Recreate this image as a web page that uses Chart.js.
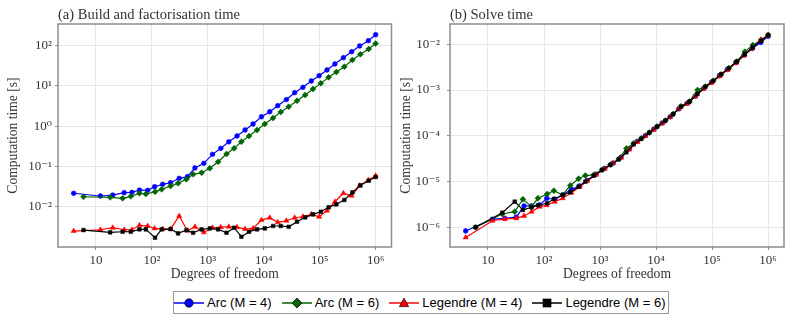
<!DOCTYPE html>
<html>
<head>
<meta charset="utf-8">
<script src="https://cdn.jsdelivr.net/npm/chart.js@4.4.1/dist/chart.umd.min.js"></script>
<style>
  body { margin: 0; background: #fff; }
  #wrap { position: relative; width: 793px; height: 323px; overflow: hidden; }
  #left { position: absolute; left: 0; top: 0; }
  #right { position: absolute; left: 396px; top: 0; }
  #legend {
    position: absolute; left: 173px; top: 291px; width: 496px; height: 23px;
    box-sizing: border-box; border: 1px solid #999; background: #fff;
    display: flex; align-items: center;
    font-family: 'Liberation Sans', Arial, sans-serif; font-size: 13px; color: #000;
  }
  #legend .item { display: flex; align-items: center; margin-right: 10px; white-space: nowrap; }
  #legend svg { margin-right: 3px; }
</style>
</head>
<body>
<div id="wrap">
  <canvas id="left" width="396" height="285"></canvas>
  <canvas id="right" width="397" height="285"></canvas>
  <div id="legend"></div>
</div>
<script>
// degrees of freedom for the two M values
const dofM4 = [4, 12, 20, 32, 44, 60, 84, 112, 156, 216, 308, 432, 588, 848, 1212, 1708, 2372, 3332, 4632, 6440,
  9100, 12800, 17800, 25400, 35700, 50100, 70800, 97700, 135000, 187000, 265000, 372000, 518000, 741000, 1000000];
const dofM6 = [6, 18, 30, 42, 60, 78, 114, 150, 216, 294, 414, 546, 774, 1086, 1530, 2160, 2952, 3984, 5460, 7584,
  10416, 14664, 20142, 27930, 39360, 54954, 75858, 104700, 144500, 198600, 275400, 383700, 533300, 750000, 1000000];

// (a) build and factorisation time [s]
const buildArcM4 = [0.0216, 0.0185, 0.0195, 0.0223, 0.0228, 0.026, 0.0255, 0.0314, 0.036, 0.0395,
  0.0508, 0.0556, 0.0916, 0.12, 0.2, 0.282, 0.41, 0.571, 0.805, 1.135,
  1.72, 2.29, 3.23, 4.6, 6.8, 9.25, 13.3, 18, 24.9, 35.1, 50.3, 71, 98.4, 133, 187];
const buildArcM6 = [0.0177, 0.0171, 0.0162, 0.0181, 0.0216, 0.0207, 0.0236, 0.027, 0.0327, 0.0381,
  0.048, 0.0638, 0.07, 0.09, 0.131, 0.204, 0.282, 0.412, 0.571, 0.805,
  1.135, 1.6, 2.25, 3.05, 4.3, 5.96, 8.4, 11.6, 16.4, 22.2, 30.1, 44.2, 61.1, 82.8, 113];
const buildLegM4 = [0.00249, 0.00268, 0.00301, 0.00268, 0.00268, 0.00345, 0.00332, 0.0029, 0.00279, 0.00279,
  0.00588, 0.00254, 0.00318, 0.00231, 0.00301, 0.0031, 0.00318, 0.0031, 0.00279, 0.0029,
  0.00467, 0.00533, 0.00409, 0.00449, 0.00533, 0.00565, 0.00647, 0.00565, 0.008, 0.0133,
  0.0216, 0.0188, 0.0333, 0.046, 0.0589];
const buildLegM6 = [0.00263, 0.00231, 0.00239, 0.00239, 0.00275, 0.00275, 0.0017, 0.00275, 0.00279, 0.00218,
  0.00263, 0.00226, 0.00275, 0.0029, 0.00275, 0.00226, 0.00301, 0.0018, 0.00239, 0.00275,
  0.0029, 0.00332, 0.00332, 0.00318, 0.00424, 0.00546, 0.00647, 0.00751, 0.00966, 0.0115,
  0.0147, 0.0228, 0.034, 0.0442, 0.0547];

// (b) solve time [s]
const solveArcM4 = [8.3e-7, 1.5e-6, 1.57e-6, 1.66e-6, 2.92e-6, 2.92e-6, 3.07e-6, 4.3e-6, 4.09e-6, 5.08e-6,
  6.77e-6, 8.0e-6, 1.06e-5, 1.45e-5, 1.94e-5, 2.52e-5, 3.4e-5, 5.16e-5, 7.55e-5, 1.01e-4,
  1.39e-4, 1.9e-4, 2.6e-4, 3.87e-4, 5.13e-4, 7.36e-4, 1.09e-3, 1.48e-3, 2.06e-3, 2.82e-3,
  4.0e-3, 5.83e-3, 8.1e-3, 1.1e-2, 1.5e-2];
const solveArcM6 = [1.0e-6, 1.95e-6, 2.19e-6, 4.09e-6, 2.82e-6, 4.3e-6, 5.35e-6, 6.31e-6, 5.08e-6, 8.2e-6,
  1.15e-5, 1.35e-5, 1.4e-5, 1.8e-5, 2.35e-5, 3.1e-5, 5.3e-5, 6.9e-5, 8.8e-5, 1.18e-4,
  1.6e-4, 2.15e-4, 3.0e-4, 4.4e-4, 5.6e-4, 1.0e-3, 1.2e-3, 1.6e-3, 2.2e-3, 3.0e-3,
  4.2e-3, 6.9e-3, 9.6e-3, 1.25e-2, 1.6e-2];
const solveLegM4 = [6.0e-7, 1.39e-6, 1.52e-6, 1.57e-6, 1.77e-6, 2.19e-6, 2.82e-6, 3.03e-6, 3.63e-6, 4.3e-6,
  5.7e-6, 7.6e-6, 1.02e-5, 1.4e-5, 1.9e-5, 2.5e-5, 3.3e-5, 5.0e-5, 7.3e-5, 9.9e-5,
  1.36e-4, 1.85e-4, 2.55e-4, 3.9e-4, 5.0e-4, 7.2e-4, 1.07e-3, 1.45e-3, 2.0e-3, 2.75e-3,
  3.9e-3, 5.7e-3, 8.2e-3, 1.25e-2, 1.55e-2];
const solveLegM6 = [1.0e-6, 2.08e-6, 3.63e-6, 2.39e-6, 2.73e-6, 3.03e-6, 3.35e-6, 4.16e-6, 5.08e-6, 5.82e-6,
  7.71e-6, 9.93e-6, 1.34e-5, 1.79e-5, 2.3e-5, 3.06e-5, 4.36e-5, 6.5e-5, 8.6e-5, 1.17e-4,
  1.58e-4, 2.14e-4, 2.95e-4, 4.33e-4, 5.56e-4, 8.2e-4, 1.18e-3, 1.58e-3, 2.21e-3, 2.99e-3,
  4.17e-3, 6.04e-3, 8.59e-3, 1.2e-2, 1.6e-2];

const seriesNames = ['Arc (M = 4)', 'Arc (M = 6)', 'Legendre (M = 4)', 'Legendre (M = 6)'];

const xTicks = [10, 1e2, 1e3, 1e4, 1e5, 1e6];
const xTickLabels = ['10', '10²', '10³', '10⁴', '10⁵', '10⁶'];
const buildTicks = [1e-2, 1e-1, 1, 10, 100];
const buildTickLabels = ['10⁻²', '10⁻¹', '10⁰', '10¹', '10²'];
const solveTicks = [1e-6, 1e-5, 1e-4, 1e-3, 1e-2];
const solveTickLabels = ['10⁻⁶', '10⁻⁵', '10⁻⁴', '10⁻³', '10⁻²'];

// look of each series
const styles = [
  {color: '#0000ff', point: 'circle', radius: 2.4},
  {color: '#006400', point: 'rectRot', radius: 3},
  {color: '#ff0000', point: 'triangle', radius: 3},
  {color: '#000000', point: 'rect', radius: 2.6}
];

const serif = "'Liberation Serif', 'DejaVu Serif', serif";
const textColor = '#333';

// grey box round the plot area
const frame = {
  id: 'frame',
  beforeDatasetsDraw(chart) {
    const {ctx, chartArea: a} = chart;
    ctx.save();
    ctx.strokeStyle = '#8c8c8c';
    ctx.lineWidth = 1.5;
    ctx.strokeRect(a.left, a.top, a.right - a.left, a.bottom - a.top);
    ctx.restore();
  }
};

function makeChart(id, o) {
  const datasets = o.series.map((ys, i) => {
    const xs = i % 2 === 0 ? dofM4 : dofM6;
    const s = styles[i];
    return {
      label: seriesNames[i],
      data: ys.map((y, k) => ({x: xs[k], y: y})),
      borderColor: s.color,
      backgroundColor: s.color,
      borderWidth: 1.2,
      pointStyle: s.point,
      pointRadius: s.radius,
      pointBorderWidth: 0.5,
      pointBorderColor: s.color,
      pointBackgroundColor: s.color,
      order: 3 - i,
      tension: 0
    };
  });

  return new Chart(document.getElementById(id), {
    type: 'line',
    data: {datasets},
    plugins: [frame],
    options: {
      responsive: false,
      animation: false,
      layout: {padding: {top: 0, right: o.padRight, bottom: 0, left: 0}},
      plugins: {
        legend: {display: false},
        tooltip: {enabled: false},
        title: {
          display: true, text: o.title, align: 'start', fullSize: false,
          color: textColor, font: {family: serif, size: 14.5, weight: 'normal', lineHeight: 1.2},
          padding: {top: 6.6, bottom: 0}
        }
      },
      scales: {
        x: {
          type: 'logarithmic', min: 2.1, max: 1.92e6, bounds: 'data',
          afterBuildTicks: s => { s.ticks = xTicks.map(v => ({value: v})); },
          afterFit: s => { s.height = 38; },
          ticks: {
            autoSkip: false, maxRotation: 0, padding: 2.5, color: textColor,
            font: {family: serif, size: 13},
            callback: (v, i) => xTickLabels[i]
          },
          grid: {color: '#e6e6e6', lineWidth: 1, tickLength: 3, tickColor: '#8c8c8c'},
          border: {display: false},
          title: {
            display: true, text: 'Degrees of freedom', color: textColor,
            font: {family: serif, size: 13.6, lineHeight: 1.2}, padding: {top: 0, bottom: 2.9}
          }
        },
        y: {
          type: 'logarithmic', min: o.yMin, max: o.yMax, bounds: 'data',
          afterBuildTicks: s => { s.ticks = o.yTicks.map(v => ({value: v})); },
          afterFit: s => { s.width = o.yWidth; },
          ticks: {
            autoSkip: false, padding: o.tickPad, color: textColor,
            font: {family: serif, size: 13},
            callback: (v, i) => o.yTickLabels[i]
          },
          grid: {color: '#e6e6e6', lineWidth: 1, tickLength: 3, tickColor: '#8c8c8c'},
          border: {display: false},
          title: {
            display: true, text: 'Computation time [s]', color: textColor,
            font: {family: serif, size: 13.6, lineHeight: 1.2}, padding: {top: o.yTitlePad, bottom: 0}
          }
        }
      }
    }
  });
}

makeChart('left', {
  title: '(a) Build and factorisation time',
  series: [buildArcM4, buildArcM6, buildLegM4, buildLegM6],
  yTicks: buildTicks, yTickLabels: buildTickLabels,
  yMin: 1e-3, yMax: 346, yWidth: 58, padRight: 4, yTitlePad: 5.4, tickPad: 3
});

makeChart('right', {
  title: '(b) Solve time',
  series: [solveArcM4, solveArcM6, solveLegM4, solveLegM6],
  yTicks: solveTicks, yTickLabels: solveTickLabels,
  yMin: 3.7e-7, yMax: 0.0278, yWidth: 54, padRight: 9, yTitlePad: 1.9, tickPad: 7
});

// shared legend under both panels
const markerSvg = {
  circle: c => `<circle cx="15" cy="6" r="4.2" fill="${c}" stroke="#000" stroke-width="0.7"/>`,
  rectRot: c => `<polygon points="15,1 20,6 15,11 10,6" fill="${c}" stroke="#000" stroke-width="0.7"/>`,
  triangle: c => `<polygon points="15,1.2 19.6,9.6 10.4,9.6" fill="${c}" stroke="#000" stroke-width="0.7"/>`,
  rect: c => `<rect x="11" y="2" width="8" height="8" fill="${c}" stroke="#000" stroke-width="0.7"/>`
};
const legend = document.getElementById('legend');
seriesNames.forEach((name, i) => {
  const s = styles[i];
  const item = document.createElement('span');
  item.className = 'item';
  item.innerHTML = `<svg width="30" height="12" viewBox="0 0 30 12">` +
    `<line x1="0" y1="6" x2="30" y2="6" stroke="${s.color}" stroke-width="1.5"/>` +
    markerSvg[s.point](s.color) + `</svg><span>${name}</span>`;
  legend.appendChild(item);
});
</script>
</body>
</html>
